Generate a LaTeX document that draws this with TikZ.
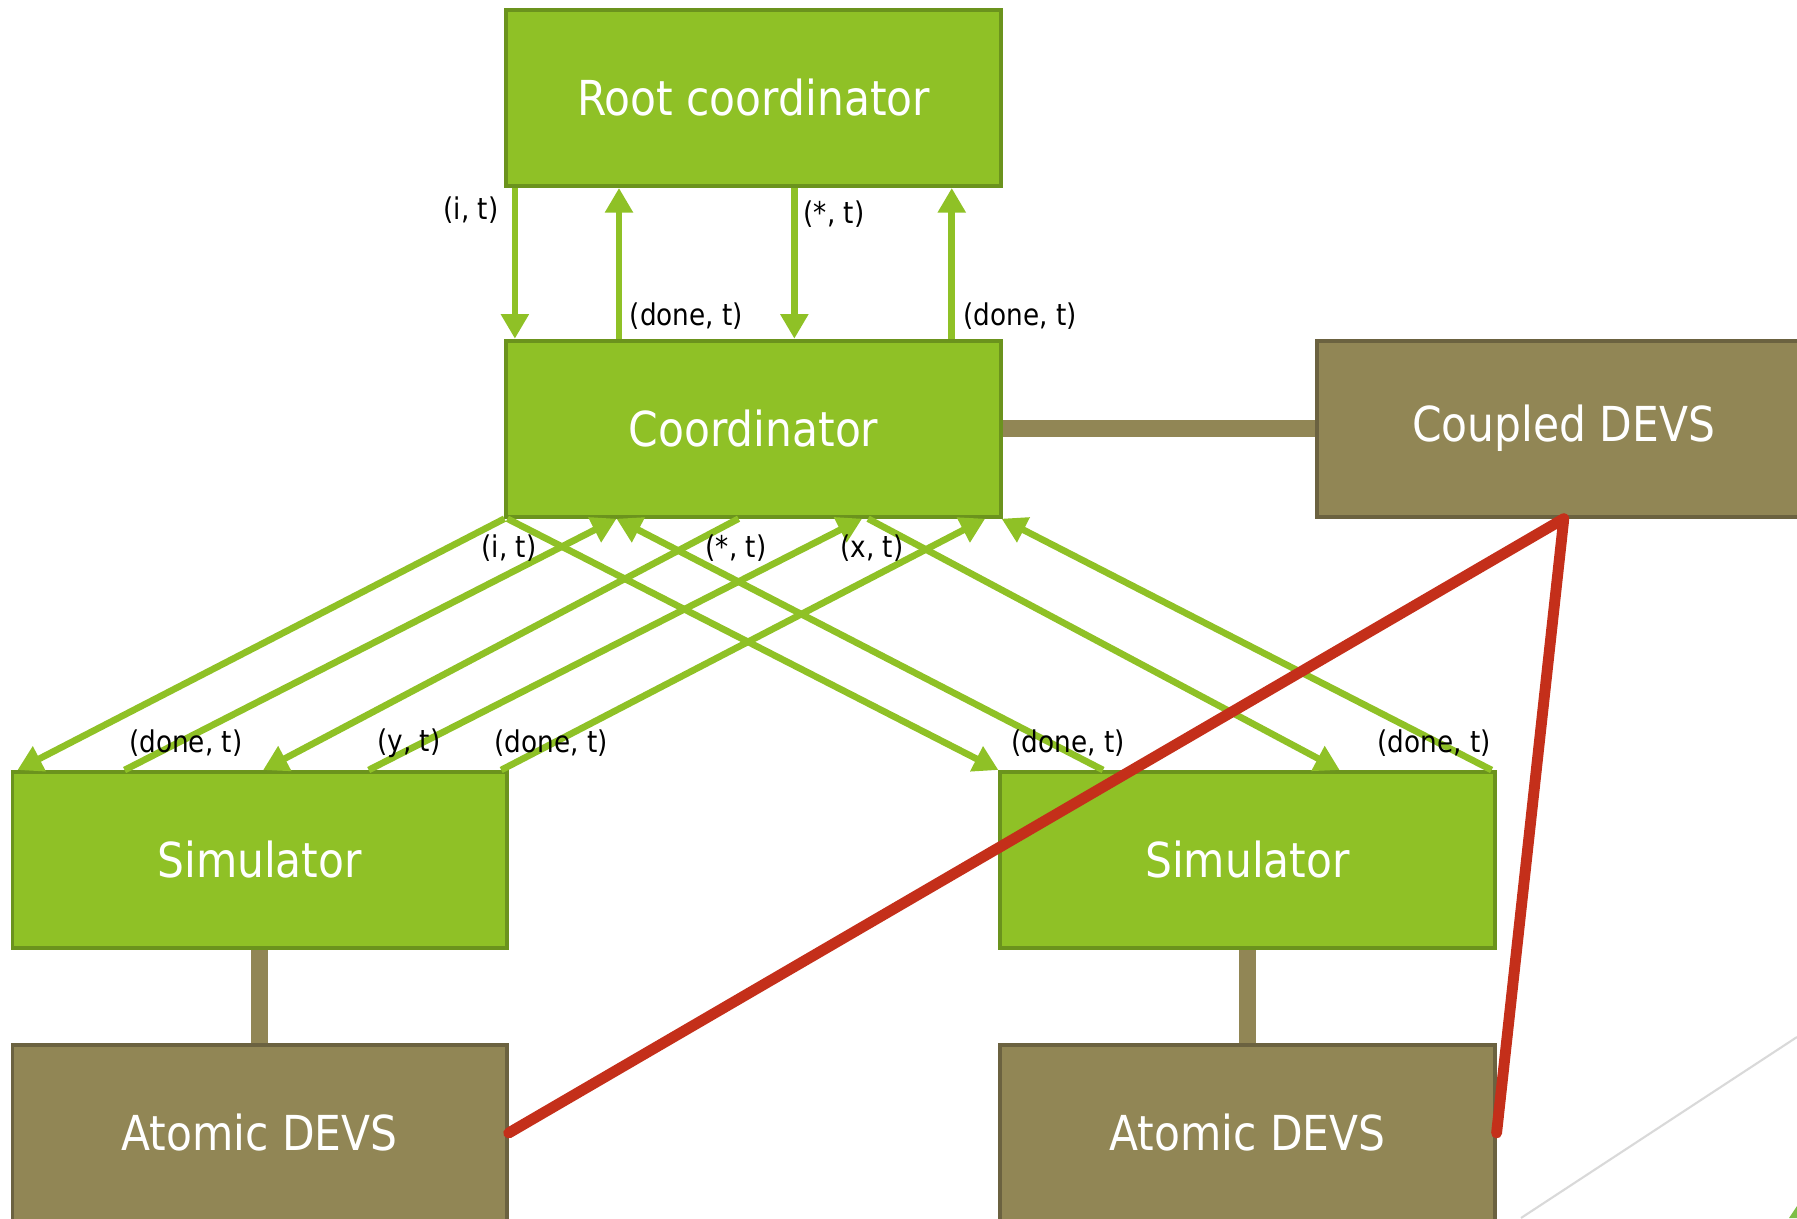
\documentclass[tikz,border=0pt]{standalone}
\usepackage{fontspec}
\setmainfont{DejaVu Sans}[FakeStretch=0.88]
\usetikzlibrary{arrows.meta,calc}

\definecolor{leaf}{HTML}{8FC126}
\definecolor{leafdark}{HTML}{6B931D}
\definecolor{olive}{HTML}{918655}
\definecolor{olivedark}{HTML}{6B6240}
\definecolor{linkred}{HTML}{C42F1A}
\definecolor{rulegray}{HTML}{D9D9D9}
\definecolor{cornergreen}{HTML}{7DBE46}

\tikzset{
  box/.style={rectangle, minimum width=4.94cm, minimum height=1.76cm,
    line width=1.1pt, text=white, inner sep=0pt,
    font=\fontsize{13.7}{16}\selectfont},
  procbox/.style={box, fill=leaf, draw=leafdark},
  modelbox/.style={box, fill=olive, draw=olivedark},
  msg/.style={draw=leaf, line width=1.9pt,
    -{Triangle[length=7pt,width=7.6pt]}},
  msglabel/.style={font=\fontsize{8.5}{10}\selectfont, text=black, inner sep=0pt},
  tie/.style={draw=olive, line width=4.8pt},
  link/.style={draw=linkred, line width=3.1pt, line cap=round, line join=round},
}

\begin{document}
\begin{tikzpicture}[x=0.01cm,y=-0.01cm]
\useasboundingbox (0,0) rectangle (1797,1218);
\clip (0,0) rectangle (1797,1218);

% processors and models
\node[procbox]  (root)    at (753.5,98)    {Root coordinator};
\node[procbox]  (coord)   at (753.5,428.7) {Coordinator};
\node[modelbox] (coupled) at (1563.8,428.7) {Coupled DEVS};
\node[procbox]  (simL)    at (259.6,860)   {Simulator};
\node[procbox]  (simR)    at (1247.5,860)  {Simulator};
\node[modelbox] (atomL)   at (259.6,1133)  {Atomic DEVS};
\node[modelbox] (atomR)   at (1247.5,1133) {Atomic DEVS};

% processor-to-model ties
\draw[tie] (coord.east) -- (coupled.west);
\draw[tie] (simL.south) -- (atomL.north);
\draw[tie] (simR.south) -- (atomR.north);

% root coordinator <-> coordinator
\draw[msg] ($(root.south west)!0.021!(root.south east)$) -- ($(coord.north west)!0.021!(coord.north east)$);
\draw[msg] ($(coord.north west)!0.230!(coord.north east)$) -- ($(root.south west)!0.230!(root.south east)$);
\draw[msg] ($(root.south west)!0.582!(root.south east)$) -- ($(coord.north west)!0.582!(coord.north east)$);
\draw[msg] ($(coord.north west)!0.898!(coord.north east)$) -- ($(root.south west)!0.898!(root.south east)$);

% coordinator <-> left simulator
\draw[msg] (coord.south west) -- ($(simL.north west)!0.014!(simL.north east)$);
\draw[msg] ($(simL.north west)!0.229!(simL.north east)$) -- ($(coord.south west)!0.225!(coord.south east)$);
\draw[msg] ($(coord.south west)!0.470!(coord.south east)$) -- ($(simL.north west)!0.507!(simL.north east)$);
\draw[msg] ($(simL.north west)!0.719!(simL.north east)$) -- ($(coord.south west)!0.718!(coord.south east)$);
\draw[msg] ($(simL.north west)!0.985!(simL.north east)$) -- ($(coord.south west)!0.965!(coord.south east)$);

% coordinator <-> right simulator
\draw[msg] ($(coord.south west)!0.006!(coord.south east)$) -- (simR.north west);
\draw[msg] ($(simR.north west)!0.210!(simR.north east)$) -- ($(coord.south west)!0.225!(coord.south east)$);
\draw[msg] ($(coord.south west)!0.730!(coord.south east)$) -- ($(simR.north west)!0.685!(simR.north east)$);
\draw[msg] ($(simR.north west)!0.990!(simR.north east)$) -- ($(coord.south west)!0.998!(coord.south east)$);

% message labels
\node[msglabel] (mRootI)    at (471,210)   {(i, t)};
\node[msglabel] (mRootD1)   at (686.5,316) {(done, t)};
\node[msglabel] (mRootS)    at (834,214)   {(*, t)};
\node[msglabel] (mRootD2)   at (1020,316)  {(done, t)};
\node[msglabel] (mCoordI)   at (509,548)   {(i, t)};
\node[msglabel] (mCoordS)   at (736,548)   {(*, t)};
\node[msglabel] (mCoordX)   at (872,548)   {(x, t)};
\node[msglabel] (mSimLD1)   at (185.7,743) {(done, t)};
\node[msglabel] (mSimLY)    at (409,743)   {(y, t)};
\node[msglabel] (mSimLD2)   at (551,743)   {(done, t)};
\node[msglabel] (mSimRD1)   at (1068,743)  {(done, t)};
\node[msglabel] (mSimRD2)   at (1434,743)  {(done, t)};

% composition of the coupled model
\draw[link] (atomL.east) -- (coupled.south) -- (atomR.east);

% slide corner ornament
\draw[rulegray, line width=0.6pt] (1521,1218) -- (1797,1037);
\fill[cornergreen] (1789,1218) -- (1797,1206) -- (1797,1218) -- cycle;
\end{tikzpicture}
\end{document}
